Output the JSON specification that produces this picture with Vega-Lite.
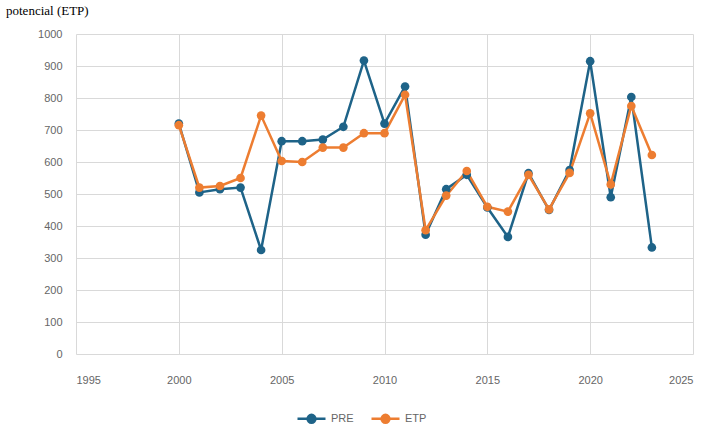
{
  "$schema": "https://vega.github.io/schema/vega-lite/v6.json",
  "autosize": "none",
  "width": 617,
  "height": 320,
  "padding": {"left": 76, "top": 34, "right": 28, "bottom": 88},
  "background": "white",
  "title": {
    "text": "potencial (ETP)",
    "anchor": "start",
    "frame": "group",
    "font": "Liberation Serif",
    "fontSize": 13,
    "fontWeight": "normal",
    "color": "#000000",
    "baseline": "alphabetic",
    "offset": 0,
    "dx": -70
  },
  "data": {
    "values": [
      {"year": 2000, "series": "PRE", "value": 720},
      {"year": 2001, "series": "PRE", "value": 505},
      {"year": 2002, "series": "PRE", "value": 515},
      {"year": 2003, "series": "PRE", "value": 520},
      {"year": 2004, "series": "PRE", "value": 325},
      {"year": 2005, "series": "PRE", "value": 665},
      {"year": 2006, "series": "PRE", "value": 665},
      {"year": 2007, "series": "PRE", "value": 670},
      {"year": 2008, "series": "PRE", "value": 710},
      {"year": 2009, "series": "PRE", "value": 917},
      {"year": 2010, "series": "PRE", "value": 720},
      {"year": 2011, "series": "PRE", "value": 836},
      {"year": 2012, "series": "PRE", "value": 373},
      {"year": 2013, "series": "PRE", "value": 515},
      {"year": 2014, "series": "PRE", "value": 560},
      {"year": 2015, "series": "PRE", "value": 458},
      {"year": 2016, "series": "PRE", "value": 366},
      {"year": 2017, "series": "PRE", "value": 565},
      {"year": 2018, "series": "PRE", "value": 450},
      {"year": 2019, "series": "PRE", "value": 575},
      {"year": 2020, "series": "PRE", "value": 915},
      {"year": 2021, "series": "PRE", "value": 490},
      {"year": 2022, "series": "PRE", "value": 803},
      {"year": 2023, "series": "PRE", "value": 333},
      {"year": 2000, "series": "ETP", "value": 715},
      {"year": 2001, "series": "ETP", "value": 520},
      {"year": 2002, "series": "ETP", "value": 525},
      {"year": 2003, "series": "ETP", "value": 550},
      {"year": 2004, "series": "ETP", "value": 745},
      {"year": 2005, "series": "ETP", "value": 603},
      {"year": 2006, "series": "ETP", "value": 600},
      {"year": 2007, "series": "ETP", "value": 645},
      {"year": 2008, "series": "ETP", "value": 645},
      {"year": 2009, "series": "ETP", "value": 690},
      {"year": 2010, "series": "ETP", "value": 690},
      {"year": 2011, "series": "ETP", "value": 810},
      {"year": 2012, "series": "ETP", "value": 387},
      {"year": 2013, "series": "ETP", "value": 495},
      {"year": 2014, "series": "ETP", "value": 572},
      {"year": 2015, "series": "ETP", "value": 460},
      {"year": 2016, "series": "ETP", "value": 445},
      {"year": 2017, "series": "ETP", "value": 560},
      {"year": 2018, "series": "ETP", "value": 452},
      {"year": 2019, "series": "ETP", "value": 566},
      {"year": 2020, "series": "ETP", "value": 752},
      {"year": 2021, "series": "ETP", "value": 530},
      {"year": 2022, "series": "ETP", "value": 775},
      {"year": 2023, "series": "ETP", "value": 622}
    ]
  },
  "mark": {
    "type": "line",
    "strokeWidth": 2.5,
    "point": {"filled": true, "size": 75, "opacity": 1}
  },
  "encoding": {
    "x": {
      "field": "year",
      "type": "quantitative",
      "scale": {"domain": [1995, 2025], "nice": false, "zero": false},
      "axis": {
        "title": null,
        "values": [1995, 2000, 2005, 2010, 2015, 2020, 2025],
        "format": "d",
        "grid": true,
        "gridColor": "#d9d9d9",
        "gridWidth": 1,
        "domain": false,
        "ticks": false,
        "labelPadding": 20,
        "labelFont": "Liberation Sans",
        "labelFontSize": 11,
        "labelColor": "#666666"
      }
    },
    "y": {
      "field": "value",
      "type": "quantitative",
      "scale": {"domain": [0, 1000], "nice": false},
      "axis": {
        "title": null,
        "values": [0, 100, 200, 300, 400, 500, 600, 700, 800, 900, 1000],
        "format": "d",
        "grid": true,
        "gridColor": "#d9d9d9",
        "gridWidth": 1,
        "domain": false,
        "ticks": false,
        "labelPadding": 14,
        "labelFont": "Liberation Sans",
        "labelFontSize": 11,
        "labelColor": "#666666"
      }
    },
    "color": {
      "field": "series",
      "type": "nominal",
      "scale": {"domain": ["PRE", "ETP"], "range": ["#1e6388", "#ed7d31"]},
      "legend": {
        "title": null,
        "orient": "none",
        "direction": "horizontal",
        "legendX": 220,
        "legendY": 369,
        "symbolType": "M-1,0L1,0M0.28,0A0.28,0.28,0,1,1,-0.28,0A0.28,0.28,0,1,1,0.28,0",
        "symbolSize": 784,
        "symbolStrokeWidth": 2.5,
        "labelFont": "Liberation Sans",
        "labelFontSize": 11,
        "labelColor": "#666666",
        "labelOffset": 4,
        "columnPadding": 12,
        "encode": {
          "symbols": {"update": {"fill": {"scale": "color", "field": "value"}, "fillOpacity": {"value": 1}}}
        }
      }
    },
    "order": {"field": "year", "type": "quantitative"}
  },
  "config": {
    "view": {"stroke": null}
  }
}
